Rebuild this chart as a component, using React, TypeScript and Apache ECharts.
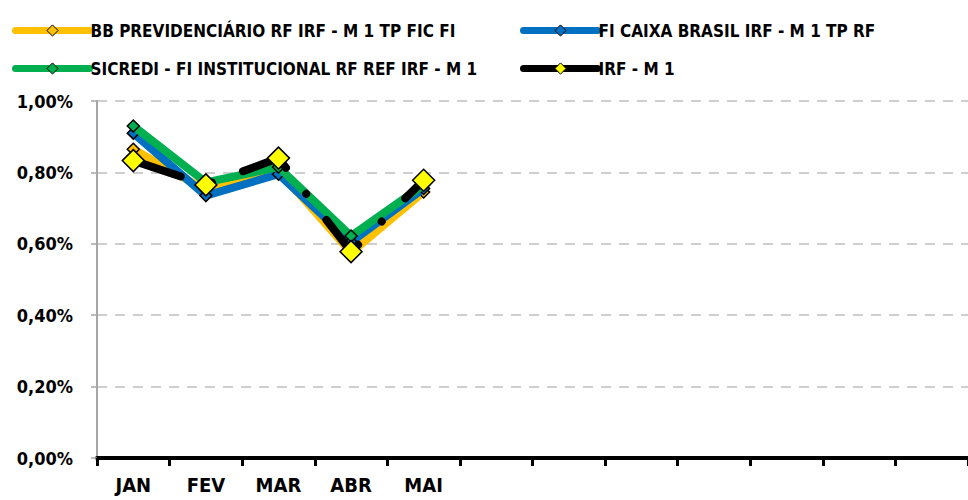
import React, { useEffect, useRef } from "react";
import * as echarts from "echarts";

const categories = ["JAN", "FEV", "MAR", "ABR", "MAI", "", "", "", "", "", "", ""];
const seriesNames = [
  "BB PREVIDENCIÁRIO RF IRF - M 1 TP FIC FI",
  "FI CAIXA BRASIL IRF - M 1 TP RF",
  "SICREDI - FI INSTITUCIONAL RF REF IRF - M 1",
  "IRF - M 1",
];
const bbValues = [0.865, 0.75, 0.805, 0.575, 0.745];
const caixaValues = [0.91, 0.735, 0.795, 0.605, 0.755];
const sicrediValues = [0.93, 0.772, 0.815, 0.622, 0.765];
const irfValues = [0.833, 0.765, 0.84, 0.578, 0.778];

const colors = ["#FFC000", "#0070C0", "#00B050", "#000000"];
const FONT = "'DejaVu Sans Condensed', 'Liberation Sans Narrow', 'Open Sans', sans-serif";

export default function App() {
  const ref = useRef<HTMLDivElement>(null);
  useEffect(() => {
    if (!ref.current) return;
    const chart = echarts.init(ref.current, undefined, { renderer: "svg" });
    const dataSets = [bbValues, caixaValues, sicrediValues, irfValues];
    const series: any[] = dataSets.map((d, i) => {
      const isIrf = i === 3;
      return {
        name: seriesNames[i],
        type: "line",
        data: d,
        z: 2 + i,
        symbol: "diamond",
        symbolSize: isIrf ? 22 : 12,
        color: colors[i],
        lineStyle: isIrf
          ? { color: "#000", width: 8, type: [50, 33, 0.1, 33], cap: "round" }
          : { color: colors[i], width: 8, cap: "round", join: "round" },
        itemStyle: {
          color: isIrf ? "#FFFF00" : colors[i],
          borderColor: "#000",
          borderWidth: 1.5,
        },
      };
    });
    const legendPos = [
      { left: 12, top: 22 },
      { left: 520, top: 22 },
      { left: 12, top: 60 },
      { left: 520, top: 60 },
    ];
    const legends = seriesNames.map((n, i) => ({
      data: [
        {
          name: n,
          itemStyle: {
            color: i === 3 ? "#FFFF00" : colors[i],
            borderColor: "#000",
            borderWidth: 1,
          },
          lineStyle: { color: colors[i], width: 7, type: "solid", cap: "round" },
        },
      ],
      ...legendPos[i],
      itemWidth: 74,
      itemHeight: 14,
      itemGap: 0,
      padding: 0,
      textStyle: { fontFamily: FONT, fontWeight: "bold", fontSize: 17, color: "#000", padding: [0, 0, 0, -4] },
      selectedMode: false,
    }));
    chart.setOption({
      animation: false,
      legend: legends,
      grid: { left: 97, right: -2, top: 101, bottom: 42, containLabel: false },
      xAxis: {
        type: "category",
        data: categories,
        boundaryGap: true,
        axisLine: { lineStyle: { color: "#000", width: 4 } },
        axisTick: { show: true, length: 8, lineStyle: { color: "#000", width: 3 }, alignWithLabel: false },
        axisLabel: {
          interval: 0,
          margin: 17,
          fontFamily: FONT,
          fontWeight: "bold",
          fontSize: 20,
          color: "#000",
        },
        splitLine: { show: false },
      },
      yAxis: {
        type: "value",
        min: 0,
        max: 1,
        interval: 0.2,
        axisLine: { show: true, lineStyle: { color: "#A6A6A6", width: 2 } },
        axisTick: { show: true, length: 6, lineStyle: { color: "#A6A6A6", width: 1.5 } },
        axisLabel: {
          margin: 24,
          fontFamily: FONT,
          fontWeight: "bold",
          fontSize: 18,
          color: "#000",
          formatter: (v: number) => v.toFixed(2).replace(".", ",") + "%",
        },
        splitLine: { show: true, lineStyle: { color: "#BFBFBF", width: 1.5, type: [10, 8] } },
      },
      series,
    });
    return () => chart.dispose();
  }, []);
  return <div ref={ref} style={{ position: "absolute", left: 0, top: 0, width: 968, height: 500 }} />;
}
